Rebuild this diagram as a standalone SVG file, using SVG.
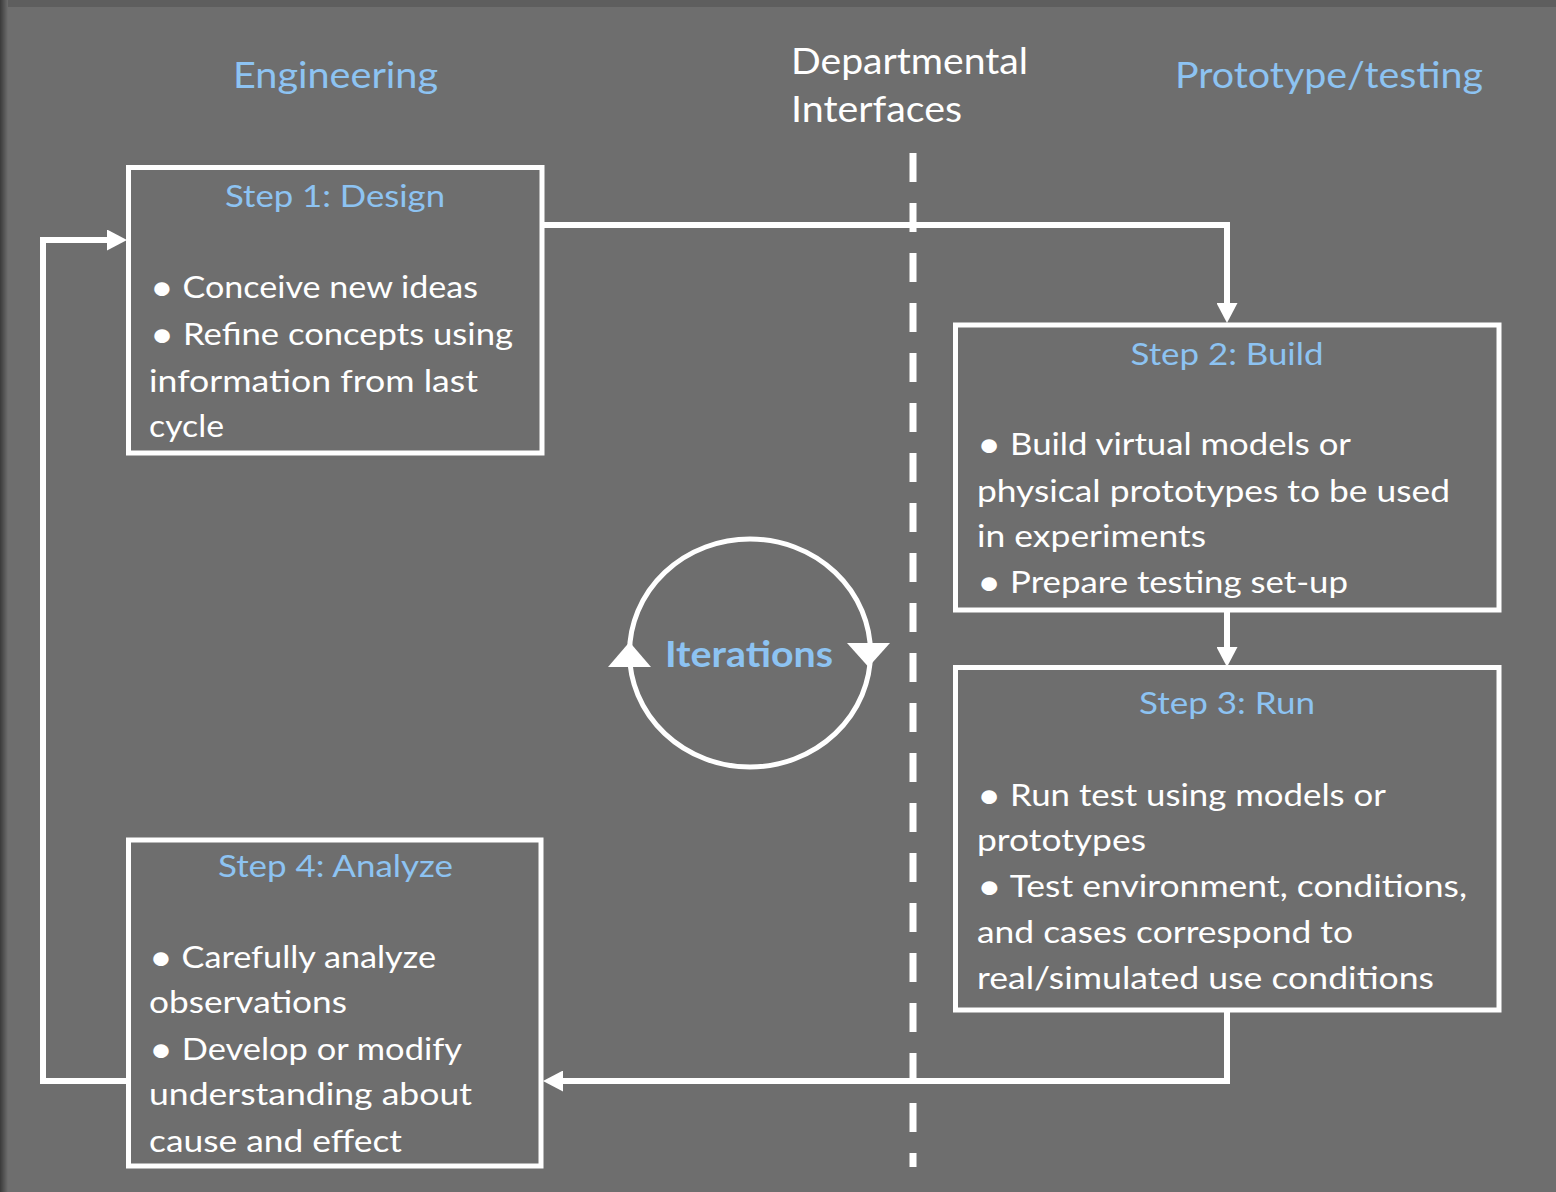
<svg xmlns="http://www.w3.org/2000/svg" width="1556" height="1192" viewBox="0 0 1556 1192">
<defs>
<style>
.box{fill:none;stroke:#ffffff;stroke-width:5}
.conn{fill:none;stroke:#ffffff;stroke-width:6}
.hdr{font-family:Lato,"Open Sans",sans-serif;font-size:37.5px}
.title{font-family:Lato,"Open Sans",sans-serif;font-size:30.5px;fill:#8dc3f2;text-anchor:start}
.body{font-family:Lato,"Open Sans",sans-serif;font-size:30px;fill:#ffffff}
.bul{font-size:36px}
.blue{fill:#8dc3f2}
.white{fill:#ffffff}
</style>
<marker id="ah" viewBox="0 0 20 21" refX="0" refY="10.5" markerWidth="20" markerHeight="21" markerUnits="userSpaceOnUse" orient="auto">
<path d="M0,0 L20,10.5 L0,21 Z" fill="#ffffff"/>
</marker>
<linearGradient id="lg" x1="0" y1="0" x2="1" y2="0">
<stop offset="0" stop-color="#3a3a3a"/>
<stop offset="1" stop-color="#6e6e6e"/>
</linearGradient>
</defs>
<rect x="0" y="0" width="1556" height="1192" fill="#6e6e6e"/>
<rect x="0" y="0" width="1556" height="7" fill="#5e5e5e"/>
<rect x="0" y="0" width="8" height="1192" fill="url(#lg)"/>

<g id="headers">
<text class="hdr blue" x="233" y="88" textLength="205" lengthAdjust="spacingAndGlyphs">Engineering</text>
<text class="hdr white" x="791" y="73.5" textLength="237" lengthAdjust="spacingAndGlyphs">Departmental</text>
<text class="hdr white" x="791" y="122" textLength="171" lengthAdjust="spacingAndGlyphs">Interfaces</text>
<text class="hdr blue" x="1175" y="88" textLength="308" lengthAdjust="spacingAndGlyphs">Prototype/testing</text>
</g>

<g id="divider">
<line x1="913" y1="153" x2="913" y2="1167" stroke="#ffffff" stroke-width="7" stroke-dasharray="29 21"/>
</g>

<g id="connectors">
<path class="conn" d="M542,225 H1227 V303" marker-end="url(#ah)"/>
<path class="conn" d="M1227,610 V647" marker-end="url(#ah)"/>
<path class="conn" d="M1227,1010 V1081 H563" marker-end="url(#ah)"/>
<path class="conn" d="M128,1081 H43 V240 H107" marker-end="url(#ah)"/>
</g>

<g id="step1">
<rect class="box" x="128.5" y="167.5" width="413.5" height="285.5"/>
<text class="title" x="225" y="207" textLength="220" lengthAdjust="spacingAndGlyphs">Step 1: Design</text>
<text class="body" x="150" y="298" textLength="328" lengthAdjust="spacingAndGlyphs"><tspan class="bul" dy="1.5">•</tspan><tspan dy="-1.5"> Conceive new ideas</tspan></text>
<text class="body" x="150" y="345" textLength="363" lengthAdjust="spacingAndGlyphs"><tspan class="bul" dy="1.5">•</tspan><tspan dy="-1.5"> Refine concepts using</tspan></text>
<text class="body" x="149" y="392" textLength="329" lengthAdjust="spacingAndGlyphs">information from last</text>
<text class="body" x="149" y="437" textLength="75" lengthAdjust="spacingAndGlyphs">cycle</text>
</g>

<g id="step2">
<rect class="box" x="955.5" y="325" width="543.5" height="285"/>
<text class="title" x="1130.5" y="365" textLength="193" lengthAdjust="spacingAndGlyphs">Step 2: Build</text>
<text class="body" x="977" y="455" textLength="374" lengthAdjust="spacingAndGlyphs"><tspan class="bul" dy="1.5">•</tspan><tspan dy="-1.5"> Build virtual models or</tspan></text>
<text class="body" x="977" y="501.5" textLength="473" lengthAdjust="spacingAndGlyphs">physical prototypes to be used</text>
<text class="body" x="977" y="547" textLength="229" lengthAdjust="spacingAndGlyphs">in experiments</text>
<text class="body" x="977" y="593" textLength="371" lengthAdjust="spacingAndGlyphs"><tspan class="bul" dy="1.5">•</tspan><tspan dy="-1.5"> Prepare testing set-up</tspan></text>
</g>

<g id="step3">
<rect class="box" x="955.5" y="667.5" width="543.5" height="342.5"/>
<text class="title" x="1139" y="713.5" textLength="176" lengthAdjust="spacingAndGlyphs">Step 3: Run</text>
<text class="body" x="977" y="806" textLength="409" lengthAdjust="spacingAndGlyphs"><tspan class="bul" dy="1.5">•</tspan><tspan dy="-1.5"> Run test using models or</tspan></text>
<text class="body" x="977" y="851" textLength="169" lengthAdjust="spacingAndGlyphs">prototypes</text>
<text class="body" x="977" y="897" textLength="490" lengthAdjust="spacingAndGlyphs"><tspan class="bul" dy="1.5">•</tspan><tspan dy="-1.5"> Test environment, conditions,</tspan></text>
<text class="body" x="977" y="943" textLength="376" lengthAdjust="spacingAndGlyphs">and cases correspond to</text>
<text class="body" x="977" y="989" textLength="457" lengthAdjust="spacingAndGlyphs">real/simulated use conditions</text>
</g>

<g id="step4">
<rect class="box" x="128.5" y="840" width="412.5" height="326"/>
<text class="title" x="218" y="877" textLength="235" lengthAdjust="spacingAndGlyphs">Step 4: Analyze</text>
<text class="body" x="149" y="968" textLength="287" lengthAdjust="spacingAndGlyphs"><tspan class="bul" dy="1.5">•</tspan><tspan dy="-1.5"> Carefully analyze</tspan></text>
<text class="body" x="149" y="1013" textLength="198" lengthAdjust="spacingAndGlyphs">observations</text>
<text class="body" x="149" y="1060" textLength="313" lengthAdjust="spacingAndGlyphs"><tspan class="bul" dy="1.5">•</tspan><tspan dy="-1.5"> Develop or modify</tspan></text>
<text class="body" x="149" y="1105" textLength="323" lengthAdjust="spacingAndGlyphs">understanding about</text>
<text class="body" x="149" y="1152" textLength="253" lengthAdjust="spacingAndGlyphs">cause and effect</text>
</g>

<g id="iterations">
<ellipse cx="750" cy="653" rx="120.5" ry="114" fill="none" stroke="#ffffff" stroke-width="5"/>
<polygon points="629.5,642 651,667 608,667" fill="#ffffff"/>
<polygon points="847,643 890,643 868.5,667" fill="#ffffff"/>
<text x="665" y="667" font-family="Lato,'Open Sans',sans-serif" font-size="36" font-weight="bold" fill="#8dc3f2" textLength="168" lengthAdjust="spacingAndGlyphs">Iterations</text>
</g>
</svg>
